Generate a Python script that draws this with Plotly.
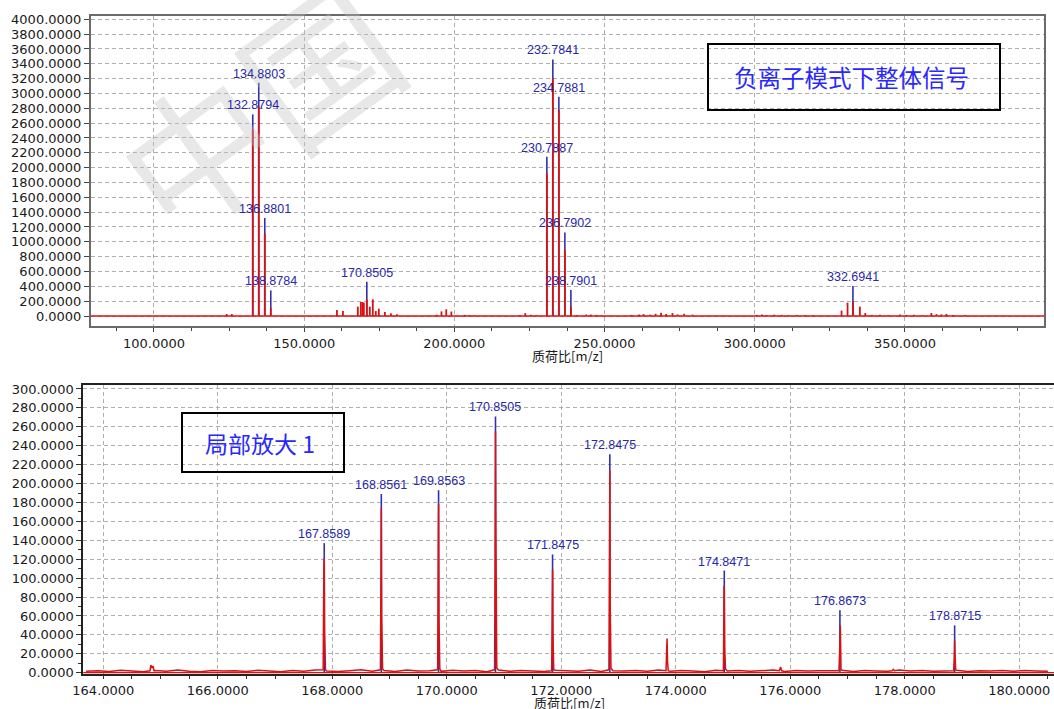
import numpy as np
import plotly.graph_objects as go

# ---------------- full-range spectrum (negative ion mode) ----------------
# profile sticks (m/z, intensity)
full_mz = [124.2, 125.9, 132.8794, 134.8803, 136.8801, 138.8784,
           160.9, 162.9, 167.86, 168.86, 169.40, 169.86, 170.8505, 171.85,
           172.85, 173.85, 174.85, 176.87, 178.87, 180.87,
           194.1, 195.7, 197.3, 199.0, 203.5, 205.0, 206.6,
           221.8, 223.6, 225.5, 227.3,
           230.7887, 232.7841, 234.7881, 236.7902, 238.7901,
           240.8, 243.9, 245.4, 247.3, 249.0,
           259.0, 261.5, 263.0, 265.2, 267.0, 268.8, 270.5, 272.6, 274.3, 276.5, 279.3,
           300.6, 302.4, 304.0, 306.5, 309.0, 311.2, 314.0, 316.8, 319.4,
           328.9, 330.9, 332.6941, 335.0, 336.8, 339.0, 341.7, 344.5, 348.4, 350.5,
           353.0, 355.8, 358.8, 360.5, 362.1, 363.8, 366.0, 370.0]
full_int = [27, 27, 2507, 2820, 1115, 110,
            81, 68, 126, 189, 189, 180, 225, 126,
            225, 67, 99, 54, 36, 22,
            18, 62, 90, 60, 15, 12, 10,
            12, 38, 18, 12,
            1923, 3204, 2780, 893, 126,
            10, 20, 20, 15, 10,
            15, 20, 25, 18, 30, 45, 28, 40, 22, 30, 18,
            15, 20, 12, 18, 15, 10, 14, 12, 10,
            72, 180, 200, 126, 40, 15, 18, 12, 20, 14,
            16, 12, 40, 25, 22, 28, 15, 12]

# centroid peaks that carry a label
full_lab_mz = [132.8794, 134.8803, 136.8801, 138.8784, 170.8505,
               230.7887, 232.7841, 234.7881, 236.7902, 238.7901, 332.6941]
full_lab_int = [2718, 3144, 1322, 345, 463,
                2147, 3459, 2956, 1127, 350, 404]

# ---------------- zoomed region 164-180 m/z ----------------
zoom_base_mz = np.round(np.arange(163.7, 180.51, 0.2), 2)
zoom_base_int = [1.5, 2.0, 1.2, 2.5, 1.8, 0.9, 2.2, 1.6, 2.8, 1.4,
                 1.1, 2.4, 1.7, 2.0, 1.3, 2.6, 1.9, 1.0, 2.3, 1.5,
                 2.7, 1.8, 1.2, 2.1, 3.0, 1.6, 2.4, 1.3, 2.9, 1.7,
                 2.0, 1.4, 2.6, 1.9, 2.2, 1.1, 2.8, 1.6, 2.3, 1.8,
                 1.3, 2.5, 2.0, 1.5, 2.7, 1.2, 2.1, 1.8, 2.4, 1.6,
                 2.9, 1.4, 2.2, 1.9, 1.1, 2.6, 1.7, 2.3, 1.5, 2.0,
                 2.8, 1.3, 2.4, 1.8, 2.1, 1.6, 2.5, 1.2, 2.2, 1.9,
                 1.4, 2.7, 1.7, 2.3, 1.5, 2.0, 2.6, 1.3, 2.1, 1.8,
                 2.4, 1.6, 2.2, 1.9, 1.5]

zoom_peak_mz = [164.815, 164.83, 164.85, 164.87, 164.885,
                167.84, 167.852, 167.859, 167.866, 167.88,
                168.84, 168.852, 168.856, 168.863, 168.878,
                169.84, 169.852, 169.856, 169.863, 169.878,
                170.835, 170.846, 170.851, 170.858, 170.873,
                171.832, 171.843, 171.848, 171.855, 171.868,
                172.832, 172.843, 172.848, 172.855, 172.868,
                173.83, 173.842, 173.848, 173.856, 173.868,
                174.832, 174.843, 174.847, 174.855, 174.868,
                175.81, 175.83, 175.85,
                176.85, 176.862, 176.867, 176.874, 176.887,
                177.78, 177.80, 177.82,
                178.855, 178.866, 178.871, 178.878, 178.89]
zoom_peak_int = [2, 8, 5, 7, 2,
                 3, 110, 121, 45, 3,
                 3, 119, 174, 61, 4,
                 3, 149, 178, 58, 4,
                 3, 158, 255, 144, 5,
                 2, 70, 109, 40, 3,
                 3, 131, 214, 70, 5,
                 2, 27, 36, 12, 2,
                 2, 91, 91, 26, 4,
                 2, 6, 2,
                 2, 22, 50, 50, 3,
                 2, 3.5, 2,
                 2, 18, 34, 20, 3]

zoom_lab_mz = [167.8589, 168.8561, 169.8563, 170.8505, 171.8475,
               172.8475, 174.8471, 176.8673, 178.8715]
zoom_lab_int = [137, 189, 193, 271, 125, 231, 108, 66, 50]

RED = "rgb(216,18,18)"
BLUE = "rgb(48,48,176)"
LABEL_BLUE = "rgb(40,40,170)"
GRID = "rgb(175,175,175)"
TICK_FONT = dict(family="DejaVu Sans", size=13, color="#1a1a1a")


def sticks(mz, inten):
    xs, ys = [], []
    for m, h in zip(mz, inten):
        xs += [m, m, None]
        ys += [0, h, None]
    return xs, ys


fig = go.Figure()

# --- top panel: full spectrum ---
bx, by = sticks(full_lab_mz, full_lab_int)
fig.add_trace(go.Scatter(x=bx, y=by, mode="lines", line=dict(color=BLUE, width=1.6),
                         xaxis="x", yaxis="y", hoverinfo="skip", showlegend=False))
rx, ry = sticks(full_mz, full_int)
fig.add_trace(go.Scatter(x=rx, y=ry, mode="lines", line=dict(color=RED, width=1.8),
                         xaxis="x", yaxis="y", hoverinfo="skip", showlegend=False))

# --- bottom panel: zoomed profile ---
zx, zy = sticks(zoom_lab_mz, zoom_lab_int)
fig.add_trace(go.Scatter(x=zx, y=zy, mode="lines", line=dict(color=BLUE, width=1.6),
                         xaxis="x2", yaxis="y2", hoverinfo="skip", showlegend=False))
prof = sorted(zip(list(zoom_base_mz) + zoom_peak_mz, zoom_base_int + zoom_peak_int))
fig.add_trace(go.Scatter(x=[p[0] for p in prof], y=[p[1] for p in prof], mode="lines",
                         line=dict(color=RED, width=1.5),
                         xaxis="x2", yaxis="y2", hoverinfo="skip", showlegend=False))

LABEL_FONT = dict(family="Liberation Sans", size=12.5, color=LABEL_BLUE)
annotations = []
for m, h in zip(full_lab_mz, full_lab_int):
    annotations.append(dict(x=m, y=h, xref="x", yref="y", text=f"{m:.4f}", showarrow=False,
                            xanchor="center", yanchor="bottom", yshift=0, font=LABEL_FONT))
for m, h in zip(zoom_lab_mz, zoom_lab_int):
    annotations.append(dict(x=m, y=h, xref="x2", yref="y2", text=f"{m:.4f}", showarrow=False,
                            xanchor="center", yanchor="bottom", yshift=0, font=LABEL_FONT))

W, H = 1054, 709


def px(x):
    return x / W


def py(y):
    return (H - y) / H


def paper_text(x, y, text, font, **kw):
    return dict(x=px(x), y=py(y), xref="paper", yref="paper", text=text, showarrow=False,
                xanchor="center", yanchor="middle", font=font, **kw)


# watermark (drawn first so the boxes and labels stay on top)
annotations.insert(0, paper_text(255, 104, "中国",
                                 dict(family="Noto Sans CJK SC", size=150,
                                      color="rgba(190,190,190,0.36)"),
                                 textangle=-36))
# text boxes
annotations.append(paper_text(851, 77, "负离子模式下整体信号",
                              dict(family="Noto Sans CJK SC", size=23.5, color="rgb(40,40,255)")))
annotations.append(paper_text(260, 443, "局部放大 1",
                              dict(family="Noto Sans CJK SC", size=23, color="rgb(40,40,255)")))
# axis titles
AXIS_TITLE_FONT = dict(family="Noto Sans CJK SC", size=13, color="#1a1a1a")
annotations.append(paper_text(567, 355, "质荷比[m/z]", AXIS_TITLE_FONT))
annotations.append(paper_text(569, 702, "质荷比[m/z]", AXIS_TITLE_FONT))

shapes = [
    dict(type="line", xref="x domain", yref="y", x0=0, x1=1, y0=0, y1=0,
         line=dict(color=RED, width=1.5)),
    dict(type="line", xref="x2 domain", yref="y2", x0=0, x1=1, y0=0, y1=0,
         line=dict(color=RED, width=1.2)),
    dict(type="rect", xref="paper", yref="paper", x0=px(708), x1=px(1000), y0=py(110), y1=py(44),
         line=dict(color="black", width=2)),
    dict(type="rect", xref="paper", yref="paper", x0=px(182), x1=px(344), y0=py(472), y1=py(413),
         line=dict(color="black", width=2)),
]

fig.update_layout(
    width=W, height=H, margin=dict(l=0, r=0, t=0, b=0, autoexpand=False),
    paper_bgcolor="white", plot_bgcolor="white",
    annotations=annotations, shapes=shapes,
    xaxis=dict(domain=[px(91), px(1044)], range=[79.03, 396.3], anchor="y", automargin=False,
               tickmode="linear", tick0=100, dtick=50, tickformat=".4f",
               ticks="outside", ticklen=4, tickcolor="#444",
               minor=dict(dtick=12.5, ticks="outside", ticklen=3, tickcolor="#444", showgrid=False),
               showgrid=True, gridcolor=GRID, griddash="4px,3px", gridwidth=1,
               showline=True, linecolor="#6a6a6a", linewidth=2, mirror=True,
               zeroline=False, tickfont=TICK_FONT),
    yaxis=dict(domain=[py(326), py(16)], range=[-134.8, 4044.5], anchor="x", automargin=False,
               tickmode="linear", tick0=0, dtick=200, tickformat=".4f",
               ticks="outside", ticklen=5, tickcolor="#444",
               showgrid=True, gridcolor=GRID, griddash="4px,3px", gridwidth=1,
               showline=True, linecolor="#6a6a6a", linewidth=2, mirror=True,
               zeroline=False, tickfont=TICK_FONT),
    xaxis2=dict(domain=[px(83.3), 1.0], range=[163.65, 180.607], anchor="y2", automargin=False,
                tickmode="linear", tick0=164, dtick=2, tickformat=".4f",
                ticks="outside", ticklen=3, tickcolor="#333",
                minor=dict(dtick=0.5, ticks="outside", ticklen=3, tickcolor="#333", showgrid=False),
                showgrid=True, gridcolor=GRID, griddash="4px,3px", gridwidth=1,
                showline=True, linecolor="#222", linewidth=2, mirror=True,
                zeroline=False, tickfont=TICK_FONT),
    yaxis2=dict(domain=[py(674), py(385)], range=[-1.4, 304.2], anchor="x2", automargin=False,
                tickmode="linear", tick0=0, dtick=20, tickformat=".4f",
                ticks="outside", ticklen=5, tickcolor="#333",
                minor=dict(dtick=10, ticks="outside", ticklen=3, tickcolor="#333", showgrid=False),
                showgrid=True, gridcolor=GRID, griddash="4px,3px", gridwidth=1,
                showline=True, linecolor="#222", linewidth=2, mirror=False,
                zeroline=False, tickfont=TICK_FONT),
)

fig.write_html("out.html")
